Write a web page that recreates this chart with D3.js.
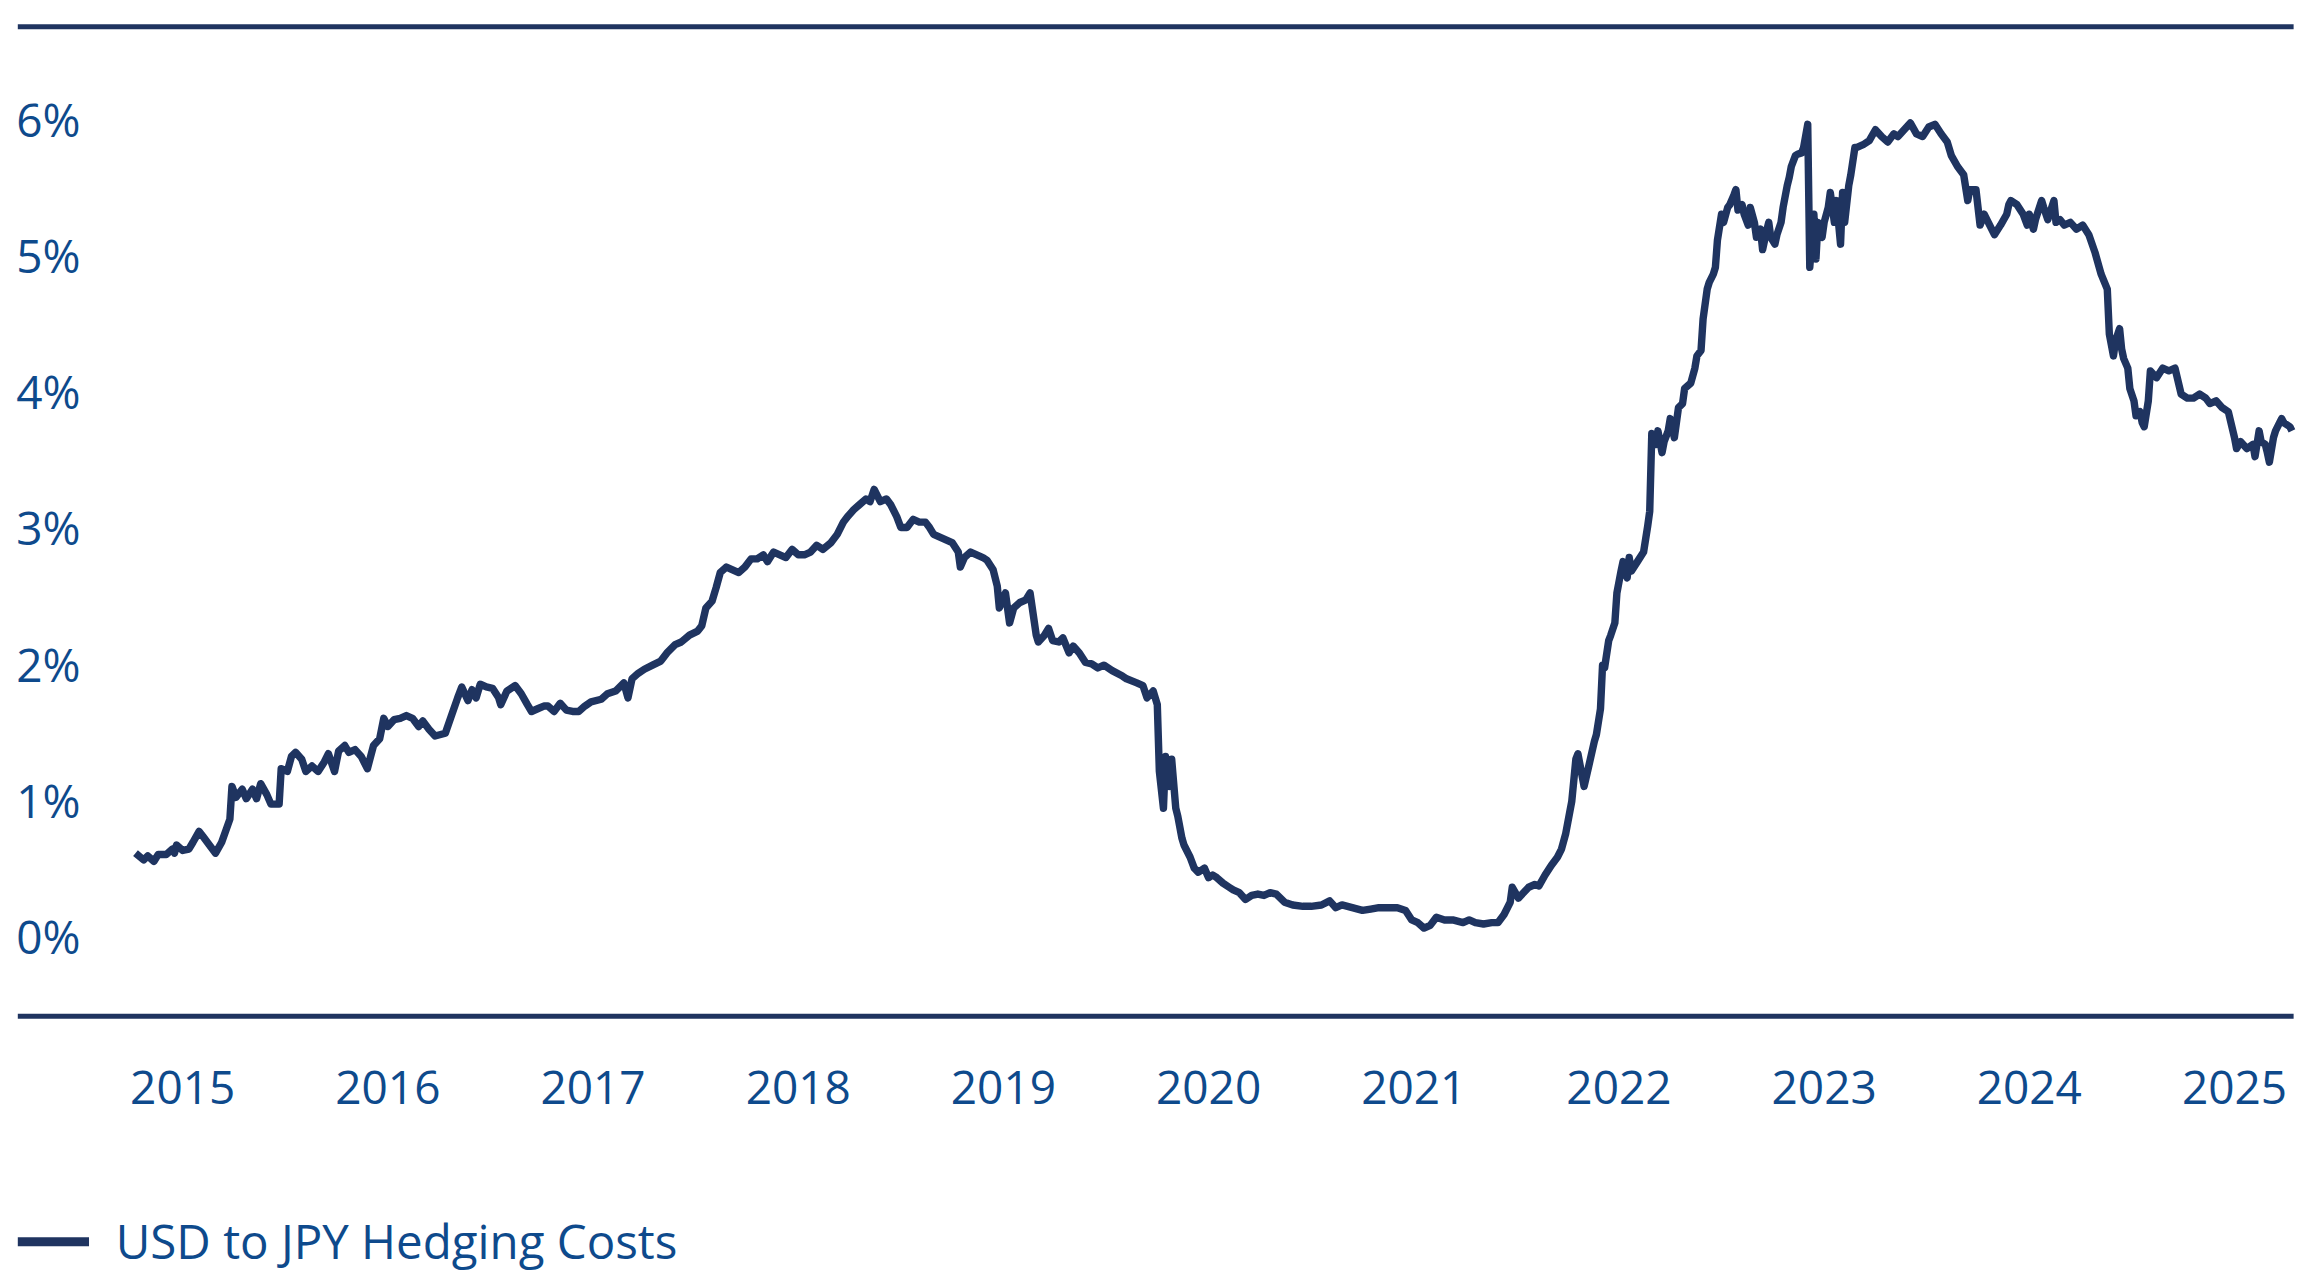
<!DOCTYPE html>
<html>
<head>
<meta charset="utf-8">
<script src="https://cdn.jsdelivr.net/npm/d3@7"></script>
<style>
  body { margin: 0; background: #fff; }
  text { font-family: "Open Sans", Lato, sans-serif; font-weight: 500; }
</style>
</head>
<body>
<div id="chart"></div>
<script>
// weekly-ish samples, decimal year
var dates = [2015.27,2015.31,2015.33,2015.36,2015.38,2015.42,2015.45,2015.46,2015.47,2015.50,2015.53,2015.55,2015.58,2015.60,2015.63,2015.66,2015.69,2015.73,2015.74,2015.76,2015.79,2015.81,2015.84,2015.86,2015.88,2015.91,2015.93,2015.97,2015.98,2016.01,2016.03,2016.05,2016.08,2016.10,2016.13,2016.16,2016.19,2016.21,2016.24,2016.26,2016.29,2016.31,2016.34,2016.37,2016.40,2016.43,2016.46,2016.48,2016.50,2016.53,2016.56,2016.59,2016.62,2016.65,2016.67,2016.70,2016.73,2016.78,2016.81,2016.84,2016.86,2016.89,2016.91,2016.93,2016.95,2016.98,2017.01,2017.04,2017.05,2017.08,2017.10,2017.12,2017.15,2017.18,2017.20,2017.23,2017.26,2017.28,2017.31,2017.34,2017.37,2017.40,2017.43,2017.46,2017.49,2017.54,2017.57,2017.61,2017.65,2017.67,2017.69,2017.72,2017.75,2017.79,2017.83,2017.86,2017.90,2017.93,2017.97,2018.01,2018.03,2018.05,2018.08,2018.10,2018.12,2018.15,2018.18,2018.21,2018.24,2018.27,2018.30,2018.33,2018.35,2018.38,2018.41,2018.44,2018.47,2018.50,2018.53,2018.56,2018.59,2018.62,2018.66,2018.69,2018.72,2018.74,2018.77,2018.80,2018.83,2018.85,2018.87,2018.90,2018.93,2018.95,2018.98,2019.00,2019.03,2019.06,2019.09,2019.12,2019.14,2019.16,2019.19,2019.22,2019.25,2019.28,2019.29,2019.31,2019.34,2019.37,2019.40,2019.42,2019.45,2019.47,2019.48,2019.51,2019.53,2019.55,2019.58,2019.61,2019.63,2019.66,2019.67,2019.70,2019.72,2019.74,2019.77,2019.79,2019.82,2019.84,2019.87,2019.90,2019.93,2019.96,2019.99,2020.03,2020.08,2020.10,2020.15,2020.18,2020.20,2020.23,2020.25,2020.26,2020.28,2020.29,2020.31,2020.32,2020.34,2020.35,2020.37,2020.38,2020.41,2020.43,2020.45,2020.48,2020.50,2020.52,2020.54,2020.57,2020.60,2020.62,2020.65,2020.68,2020.71,2020.74,2020.77,2020.80,2020.83,2020.87,2020.91,2020.96,2021.00,2021.05,2021.09,2021.12,2021.15,2021.20,2021.25,2021.29,2021.33,2021.38,2021.42,2021.46,2021.49,2021.52,2021.55,2021.58,2021.61,2021.65,2021.69,2021.74,2021.77,2021.80,2021.84,2021.88,2021.91,2021.94,2021.97,2021.98,2022.01,2022.06,2022.09,2022.11,2022.14,2022.17,2022.20,2022.22,2022.24,2022.26,2022.27,2022.29,2022.30,2022.33,2022.35,2022.38,2022.39,2022.41,2022.42,2022.43,2022.45,2022.46,2022.48,2022.49,2022.51,2022.52,2022.54,2022.55,2022.56,2022.59,2022.62,2022.64,2022.65,2022.66,2022.68,2022.69,2022.71,2022.72,2022.74,2022.75,2022.77,2022.78,2022.79,2022.81,2022.82,2022.85,2022.87,2022.88,2022.90,2022.91,2022.93,2022.94,2022.96,2022.97,2022.98,2023.00,2023.01,2023.03,2023.04,2023.06,2023.07,2023.08,2023.10,2023.11,2023.13,2023.14,2023.16,2023.17,2023.19,2023.20,2023.22,2023.23,2023.24,2023.26,2023.27,2023.29,2023.30,2023.32,2023.33,2023.34,2023.36,2023.37,2023.39,2023.40,2023.42,2023.43,2023.45,2023.46,2023.47,2023.49,2023.50,2023.52,2023.53,2023.55,2023.56,2023.58,2023.59,2023.60,2023.62,2023.63,2023.65,2023.66,2023.69,2023.72,2023.75,2023.78,2023.81,2023.84,2023.86,2023.89,2023.92,2023.95,2023.98,2024.01,2024.04,2024.07,2024.10,2024.12,2024.15,2024.18,2024.20,2024.21,2024.24,2024.26,2024.27,2024.28,2024.30,2024.33,2024.36,2024.39,2024.40,2024.41,2024.44,2024.47,2024.49,2024.50,2024.52,2024.53,2024.56,2024.57,2024.59,2024.62,2024.63,2024.65,2024.67,2024.70,2024.73,2024.76,2024.79,2024.82,2024.85,2024.88,2024.89,2024.91,2024.92,2024.94,2024.95,2024.96,2024.98,2024.99,2025.01,2025.02,2025.04,2025.05,2025.06,2025.08,2025.09,2025.12,2025.15,2025.18,2025.21,2025.24,2025.27,2025.30,2025.33,2025.36,2025.38,2025.41,2025.44,2025.47,2025.50,2025.51,2025.53,2025.56,2025.59,2025.60,2025.62,2025.63,2025.65,2025.66,2025.67,2025.69,2025.70,2025.72,2025.73,2025.74,2025.77,2025.78];
var hedgeCost = [0.62,0.57,0.60,0.56,0.61,0.61,0.65,0.62,0.68,0.64,0.65,0.70,0.78,0.74,0.68,0.62,0.70,0.87,1.11,1.03,1.09,1.02,1.09,1.02,1.13,1.05,0.98,0.98,1.24,1.22,1.33,1.36,1.31,1.22,1.26,1.22,1.29,1.35,1.22,1.37,1.41,1.36,1.38,1.33,1.24,1.41,1.46,1.61,1.55,1.60,1.61,1.63,1.61,1.55,1.59,1.53,1.48,1.50,1.63,1.76,1.84,1.74,1.82,1.76,1.86,1.84,1.83,1.76,1.71,1.81,1.83,1.85,1.79,1.71,1.66,1.68,1.70,1.70,1.66,1.72,1.67,1.66,1.66,1.70,1.73,1.75,1.79,1.81,1.87,1.76,1.90,1.94,1.97,2.00,2.03,2.09,2.15,2.17,2.22,2.25,2.29,2.42,2.47,2.57,2.68,2.72,2.70,2.68,2.72,2.78,2.78,2.81,2.76,2.83,2.81,2.79,2.85,2.81,2.81,2.83,2.88,2.85,2.90,2.96,3.05,3.09,3.14,3.18,3.22,3.20,3.29,3.20,3.22,3.18,3.09,3.01,3.01,3.07,3.05,3.05,3.01,2.96,2.94,2.92,2.90,2.83,2.72,2.79,2.83,2.81,2.79,2.77,2.70,2.58,2.42,2.53,2.31,2.42,2.46,2.48,2.53,2.22,2.17,2.22,2.27,2.18,2.17,2.20,2.09,2.14,2.09,2.02,2.01,1.98,2.00,1.96,1.92,1.90,1.87,1.85,1.76,1.81,1.71,1.22,0.95,1.33,1.11,1.31,0.95,0.89,0.73,0.68,0.59,0.51,0.48,0.51,0.44,0.46,0.44,0.40,0.37,0.35,0.33,0.28,0.31,0.32,0.31,0.33,0.32,0.26,0.24,0.23,0.23,0.24,0.27,0.22,0.24,0.22,0.20,0.21,0.22,0.22,0.22,0.20,0.13,0.11,0.07,0.09,0.15,0.13,0.13,0.11,0.13,0.11,0.10,0.11,0.11,0.17,0.26,0.37,0.29,0.37,0.39,0.38,0.46,0.53,0.59,0.65,0.76,0.92,1.00,1.31,1.35,1.11,1.24,1.44,1.49,1.68,2.00,1.98,2.18,2.22,2.31,2.53,2.69,2.76,2.64,2.79,2.69,2.76,2.83,3.02,3.13,3.70,3.62,3.72,3.56,3.64,3.72,3.81,3.67,3.78,3.89,3.92,4.03,4.07,4.18,4.27,4.31,4.54,4.76,4.81,4.87,4.92,5.12,5.31,5.25,5.36,5.38,5.45,5.49,5.34,5.38,5.31,5.23,5.36,5.25,5.14,5.20,5.05,5.19,5.25,5.14,5.09,5.16,5.25,5.36,5.52,5.58,5.66,5.74,5.75,5.76,5.80,5.97,4.92,5.31,4.98,5.25,5.14,5.25,5.36,5.47,5.25,5.41,5.09,5.47,5.25,5.52,5.60,5.80,5.80,5.82,5.85,5.93,5.88,5.84,5.90,5.88,5.93,5.98,5.90,5.88,5.95,5.97,5.90,5.84,5.74,5.66,5.60,5.41,5.49,5.49,5.23,5.27,5.31,5.25,5.16,5.23,5.31,5.38,5.41,5.38,5.31,5.23,5.31,5.20,5.27,5.41,5.36,5.27,5.41,5.25,5.27,5.23,5.25,5.20,5.23,5.16,5.03,4.87,4.76,4.43,4.27,4.38,4.47,4.32,4.25,4.18,4.03,3.94,3.83,3.86,3.78,3.75,3.94,4.16,4.11,4.18,4.16,4.18,3.99,3.96,3.96,3.99,3.96,3.92,3.94,3.89,3.86,3.67,3.59,3.64,3.59,3.62,3.53,3.72,3.64,3.62,3.56,3.49,3.67,3.72,3.78,3.81,3.78,3.75,3.72];
var yearTicks = [2015,2016,2017,2018,2019,2020,2021,2022,2023,2024,2025];
var pctTicks = [0,1,2,3,4,5,6];
var seriesName = "USD to JPY Hedging Costs";

var W = 1553, H = 858.7;
var navy = "#1f3460", labelBlue = "#0e4a8c";

var svg = d3.select("#chart").append("svg")
  .attr("width", 2304).attr("height", 1274)
  .attr("viewBox", "0 0 " + W + " " + H);

var x = d3.scaleLinear().domain([2015, 2026]).range([54, 54 + 11 * 138.3]);
var y = d3.scaleLinear().domain([0, 6]).range([632, 81]);

// frame lines
svg.append("line").attr("x1", 12).attr("x2", 1546).attr("y1", 18).attr("y2", 18)
  .attr("stroke", navy).attr("stroke-width", 3.5);
svg.append("line").attr("x1", 12).attr("x2", 1546).attr("y1", 685).attr("y2", 685)
  .attr("stroke", navy).attr("stroke-width", 3.5);

// y labels
svg.append("g").selectAll("text").data(pctTicks).enter().append("text")
  .attr("x", 11).attr("y", d => y(d)).attr("dy", "0.36em")
  .attr("fill", labelBlue).attr("font-size", 31)
  .text(d => d + "%");

// x labels, centred mid-year
svg.append("g").selectAll("text").data(yearTicks).enter().append("text")
  .attr("x", d => x(d + 0.5)).attr("y", 733).attr("dy", "0.36em")
  .attr("text-anchor", "middle")
  .attr("fill", labelBlue).attr("font-size", 31)
  .text(d => d);

var data = dates.map((d, i) => [d, hedgeCost[i]]);
var line = d3.line().x(d => x(d[0])).y(d => y(d[1]));
svg.append("path").datum(data)
  .attr("fill", "none").attr("stroke", navy).attr("stroke-width", 5)
  .attr("stroke-linejoin", "round").attr("d", line);

// legend
svg.append("line").attr("x1", 12).attr("x2", 60).attr("y1", 837).attr("y2", 837)
  .attr("stroke", navy).attr("stroke-width", 6);
svg.append("text").attr("x", 78).attr("y", 837).attr("dy", "0.36em")
  .attr("fill", labelBlue).attr("font-size", 32).text(seriesName);
</script>
</body>
</html>
